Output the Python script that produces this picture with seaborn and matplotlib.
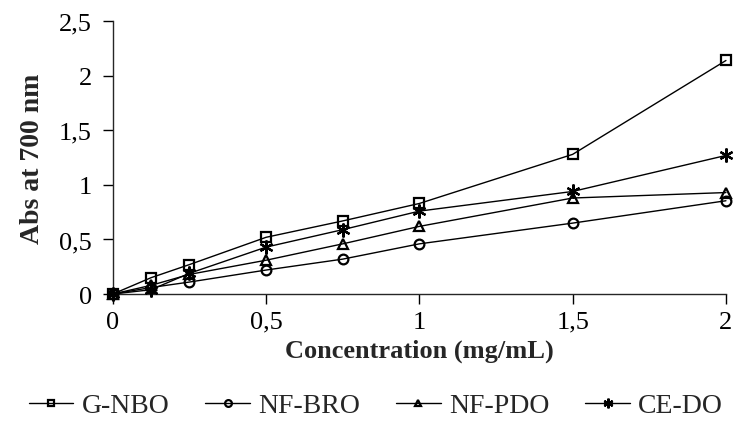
import numpy as np
import pandas as pd
import seaborn as sns
import matplotlib.pyplot as plt

conc = [0, 0.125, 0.25, 0.5, 0.75, 1, 1.5, 2]
g_nbo = [0, 0.15, 0.27, 0.52, 0.67, 0.83, 1.28, 2.14]
nf_bro = [0, 0.06, 0.11, 0.22, 0.32, 0.46, 0.65, 0.855]
nf_pdo = [0, 0.08, 0.18, 0.31, 0.46, 0.62, 0.88, 0.93]
ce_do = [0, 0.04, 0.19, 0.43, 0.59, 0.76, 0.94, 1.27]
names = ["G-NBO", "NF-BRO", "NF-PDO", "CE-DO"]

if __name__ == "__main__":
    rows = []
    for name, vals in zip(names, [g_nbo, nf_bro, nf_pdo, ce_do]):
        for c, v in zip(conc, vals):
            rows.append({"Concentration": c, "Abs": v, "Sample": name})
    df = pd.DataFrame(rows)

    sns.set_style("ticks")
    plt.rcParams["font.family"] = ["Liberation Serif", "DejaVu Serif"]

    fig = plt.figure(figsize=(7.37, 4.27), dpi=100)
    ax = fig.add_axes([0.153, 0.309, 0.832, 0.639])

    mk = {"G-NBO": "s", "NF-BRO": "o", "NF-PDO": "^", "CE-DO": (6, 2, 0)}
    for name in names:
        sub = df[df["Sample"] == name]
        ms = 10 if name == "CE-DO" else 7
        sns.lineplot(data=sub, x="Concentration", y="Abs", marker=mk[name],
                     color="black", linewidth=1, markersize=ms,
                     markerfacecolor="none", markeredgecolor="black",
                     markeredgewidth=1.6, ax=ax, label=name, clip_on=False,
                     zorder=3)

    ax.set_xlim(0, 2)
    ax.set_ylim(0, 2.5)
    ax.set_xticks([0, 0.5, 1, 1.5, 2])
    ax.set_xticklabels(["0", "0,5", "1", "1,5", "2"])
    ax.set_yticks([0, 0.5, 1, 1.5, 2, 2.5])
    ax.set_yticklabels(["0", "0,5", "1", "1,5", "2", "2,5"])
    ax.tick_params(axis="both", labelsize=19, length=7, width=1, direction="out",
                   colors="black")
    ax.tick_params(axis="x", pad=5)
    ax.tick_params(axis="y", pad=8)
    ax.spines["left"].set_linewidth(1)
    ax.spines["bottom"].set_linewidth(1)
    sns.despine(ax=ax)

    ax.set_xlabel("Concentration (mg/mL)", fontsize=19, fontweight="bold", labelpad=4)
    ax.set_ylabel("Abs at 700 nm", fontsize=20, fontweight="bold", labelpad=10)

    handles, labels = ax.get_legend_handles_labels()
    ax.legend_.remove()
    fig.legend(handles, labels, loc="center", bbox_to_anchor=(0.51, 0.048), ncol=4,
               frameon=False, fontsize=20, markerscale=0.7, handlelength=1.6,
               handletextpad=0.3, columnspacing=1.3)

    plt.savefig("out.png", dpi=100)
